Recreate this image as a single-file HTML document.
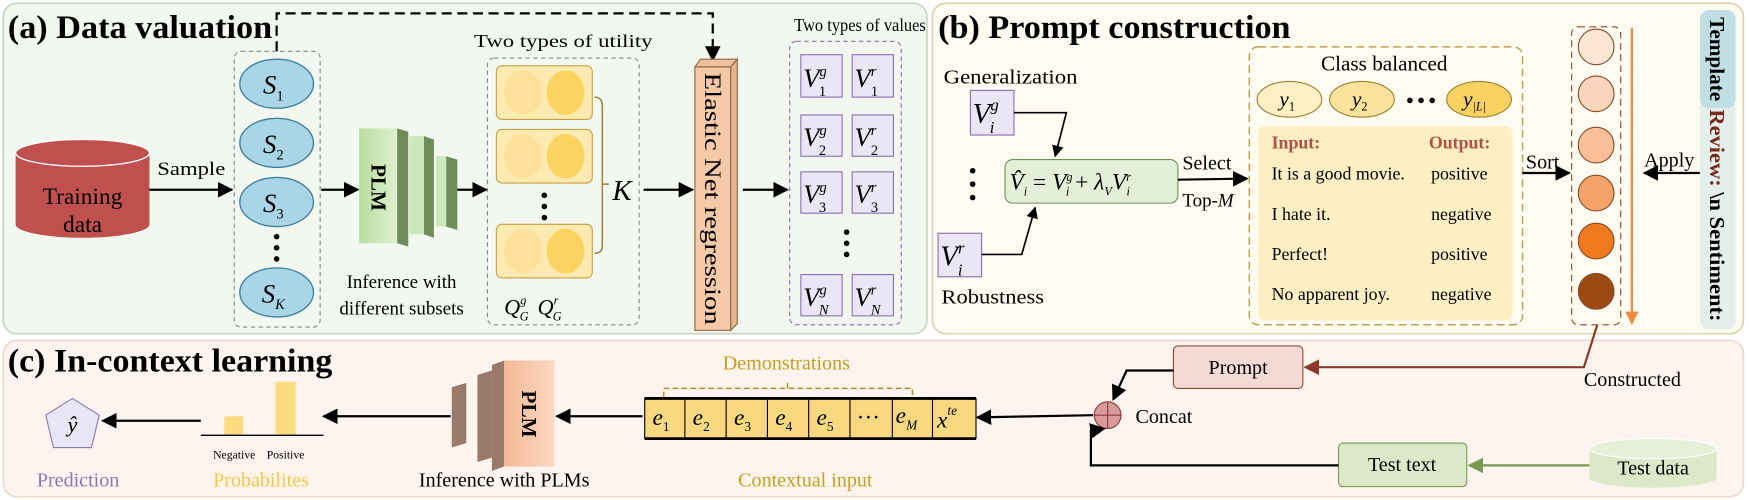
<!DOCTYPE html>
<html><head><meta charset="utf-8"><style>
html,body{margin:0;padding:0;background:#fff;}
svg{display:block;}
text{font-family:"Liberation Serif",serif;}
</style></head><body>
<svg width="1749" height="500" viewBox="0 0 1568 448" preserveAspectRatio="none" xmlns="http://www.w3.org/2000/svg">
<defs>
<marker id="ab" viewBox="0 0 10 10" refX="9" refY="5" markerWidth="7" markerHeight="7" orient="auto"><path d="M0,0L10,5L0,10z" fill="#000"/></marker>
<marker id="ar" viewBox="0 0 10 10" refX="9" refY="5" markerWidth="7" markerHeight="7" orient="auto"><path d="M0,0L10,5L0,10z" fill="#8b3a2a"/></marker>
<marker id="ag" viewBox="0 0 10 10" refX="9" refY="5" markerWidth="7" markerHeight="7" orient="auto"><path d="M0,0L10,5L0,10z" fill="#7a9a50"/></marker>
<marker id="ao" viewBox="0 0 10 10" refX="9" refY="5" markerWidth="6" markerHeight="6" orient="auto"><path d="M0,0L10,5L0,10z" fill="#f08a40"/></marker>
<linearGradient id="plmg" x1="0" x2="1"><stop offset="0" stop-color="#b9dca0"/><stop offset="1" stop-color="#def0cf"/></linearGradient>
<linearGradient id="plmo" x1="0" x2="1"><stop offset="0" stop-color="#f4b894"/><stop offset="1" stop-color="#fbd8c2"/></linearGradient>
</defs>

<!-- panels -->
<rect x="3" y="3" width="828" height="296" rx="12" fill="#f2f8ef" stroke="#c8d4bf" stroke-width="1.5"/>
<rect x="836" y="3" width="727" height="296" rx="12" fill="#fefbf0" stroke="#ddd0aa" stroke-width="1.5"/>
<rect x="3" y="305" width="1560" height="140" rx="12" fill="#fdf4f0" stroke="#f0d8cc" stroke-width="1.5"/>

<!-- ===== (a) ===== -->
<text x="7" y="34" font-size="29" font-weight="bold" textLength="237" lengthAdjust="spacingAndGlyphs">(a) Data valuation</text>
<path d="M248,46V12H639V54" fill="none" stroke="#000" stroke-width="2" stroke-dasharray="9,5" marker-end="url(#ab)"/>

<g>
<path d="M14,137V201A60,12 0 0 0 134,201V137z" fill="#c0504d"/>
<ellipse cx="74" cy="137" rx="60" ry="12" fill="#c0504d" stroke="#fff" stroke-width="1.2"/>
<text x="74" y="183" font-size="21" text-anchor="middle">Training</text>
<text x="74" y="208" font-size="21" text-anchor="middle">data</text>
</g>
<text x="141" y="157" font-size="17" textLength="61" lengthAdjust="spacingAndGlyphs">Sample</text>
<line x1="134" y1="170" x2="208" y2="170" stroke="#000" stroke-width="2" marker-end="url(#ab)"/>

<rect x="210" y="46" width="77" height="247" rx="6" fill="none" stroke="#7a8a9a" stroke-dasharray="4,3"/>
<g font-style="italic" font-size="24" text-anchor="middle">
<ellipse cx="248" cy="75" rx="33" ry="22" fill="#a9d5e6" stroke="#3d7fa0" stroke-width="1.2"/><text x="245" y="84">S<tspan font-size="13" dy="6" font-style="normal">1</tspan></text>
<ellipse cx="248" cy="128" rx="33" ry="22" fill="#a9d5e6" stroke="#3d7fa0" stroke-width="1.2"/><text x="245" y="137">S<tspan font-size="13" dy="6" font-style="normal">2</tspan></text>
<ellipse cx="248" cy="181" rx="33" ry="22" fill="#a9d5e6" stroke="#3d7fa0" stroke-width="1.2"/><text x="245" y="190">S<tspan font-size="13" dy="6" font-style="normal">3</tspan></text>
<circle cx="248" cy="212" r="2.5" fill="#000"/><circle cx="248" cy="222" r="2.5" fill="#000"/><circle cx="248" cy="232" r="2.5" fill="#000"/>
<ellipse cx="248" cy="262" rx="33" ry="22" fill="#a9d5e6" stroke="#3d7fa0" stroke-width="1.2"/><text x="245" y="271">S<tspan font-size="13" dy="6">K</tspan></text>
</g>
<line x1="288" y1="170" x2="321" y2="170" stroke="#000" stroke-width="2" marker-end="url(#ab)"/>

<g>
<polygon points="400,140 410,143 410,206 400,203" fill="#6e8c5a"/><rect x="391" y="140" width="9" height="63" fill="#cde8b8"/>
<polygon points="380,122 389,125 389,213 380,210" fill="#6e8c5a"/><rect x="367" y="122" width="13" height="88" fill="#cde8b8"/>
<polygon points="356,115 366,118 366,221 356,218" fill="#6e8c5a"/><rect x="322" y="115" width="34" height="103" fill="url(#plmg)"/>
<text transform="translate(333,168) rotate(90)" font-size="19" text-anchor="middle" font-weight="bold">PLM</text>
</g>
<text x="360" y="258" font-size="17" text-anchor="middle">Inference with</text>
<text x="360" y="282" font-size="17" text-anchor="middle">different subsets</text>
<line x1="410" y1="170" x2="436" y2="170" stroke="#000" stroke-width="2" marker-end="url(#ab)"/>

<text x="505" y="42" font-size="16" text-anchor="middle" textLength="160" lengthAdjust="spacingAndGlyphs">Two types of utility</text>
<rect x="437" y="52" width="136" height="239" rx="6" fill="none" stroke="#8a8a80" stroke-dasharray="4,3"/>
<g>
<rect x="445" y="59" width="86" height="48" rx="5" fill="#fdeab0" stroke="#c8a040"/><ellipse cx="469" cy="83" rx="17" ry="20" fill="#fde09a"/><ellipse cx="507" cy="83" rx="17" ry="20" fill="#fcd260"/>
<rect x="445" y="116" width="86" height="48" rx="5" fill="#fdeab0" stroke="#c8a040"/><ellipse cx="469" cy="140" rx="17" ry="20" fill="#fde09a"/><ellipse cx="507" cy="140" rx="17" ry="20" fill="#fcd260"/>
<circle cx="488" cy="175" r="2.5"/><circle cx="488" cy="185" r="2.5"/><circle cx="488" cy="195" r="2.5"/>
<rect x="445" y="201" width="86" height="48" rx="5" fill="#fdeab0" stroke="#c8a040"/><ellipse cx="469" cy="225" rx="17" ry="20" fill="#fde09a"/><ellipse cx="507" cy="225" rx="17" ry="20" fill="#fcd260"/>
</g>
<path d="M533,87Q540,87 540,95V165H546M540,165V220Q540,227 533,227" fill="none" stroke="#a08030" stroke-width="1.3"/>
<text x="549" y="179" font-size="26" font-style="italic">K</text>
<text x="452" y="282" font-size="20" font-style="italic">Q<tspan font-size="11" dy="-9">g</tspan><tspan font-size="11" dx="-6" dy="14">G</tspan><tspan dx="8" dy="-5">Q</tspan><tspan font-size="11" dy="-9">r</tspan><tspan font-size="11" dx="-5" dy="14">G</tspan></text>
<line x1="577" y1="170" x2="621" y2="170" stroke="#000" stroke-width="2" marker-end="url(#ab)"/>

<g>
<polygon points="655,60 661,53 661,290 655,296" fill="#e8b48c" stroke="#8a6a40"/>
<polygon points="623,60 628,53 661,53 655,60" fill="#f0c09a" stroke="#8a6a40"/>
<rect x="623" y="60" width="32" height="236" fill="#f6c9a8" stroke="#8a6a40"/>
<text transform="translate(632,178) rotate(90)" font-size="21" text-anchor="middle" textLength="226" lengthAdjust="spacingAndGlyphs">Elastic Net regression</text>
</g>
<line x1="666" y1="170" x2="706" y2="170" stroke="#000" stroke-width="2" marker-end="url(#ab)"/>

<text x="771" y="28" font-size="16" text-anchor="middle" textLength="118" lengthAdjust="spacingAndGlyphs">Two types of values</text>
<rect x="708" y="37" width="100" height="254" rx="6" fill="none" stroke="#8b6fb5" stroke-dasharray="4,3"/>
<g font-size="24" font-style="italic">
<rect x="718" y="49" width="37" height="38" fill="#ebe6f6" stroke="#8b6fb5"/><text x="720" y="78">V<tspan font-size="13" dy="-10">g</tspan><tspan font-size="13" dx="-7" dy="18" font-style="normal">1</tspan></text>
<rect x="764" y="49" width="37" height="38" fill="#ebe6f6" stroke="#8b6fb5"/><text x="766" y="78">V<tspan font-size="13" dy="-10">r</tspan><tspan font-size="13" dx="-5" dy="18" font-style="normal">1</tspan></text>
<rect x="718" y="103" width="37" height="37" fill="#ebe6f6" stroke="#8b6fb5"/><text x="720" y="131">V<tspan font-size="13" dy="-10">g</tspan><tspan font-size="13" dx="-7" dy="18" font-style="normal">2</tspan></text>
<rect x="764" y="103" width="37" height="37" fill="#ebe6f6" stroke="#8b6fb5"/><text x="766" y="131">V<tspan font-size="13" dy="-10">r</tspan><tspan font-size="13" dx="-5" dy="18" font-style="normal">2</tspan></text>
<rect x="718" y="154" width="37" height="37" fill="#ebe6f6" stroke="#8b6fb5"/><text x="720" y="182">V<tspan font-size="13" dy="-10">g</tspan><tspan font-size="13" dx="-7" dy="18" font-style="normal">3</tspan></text>
<rect x="764" y="154" width="37" height="37" fill="#ebe6f6" stroke="#8b6fb5"/><text x="766" y="182">V<tspan font-size="13" dy="-10">r</tspan><tspan font-size="13" dx="-5" dy="18" font-style="normal">3</tspan></text>
<circle cx="759" cy="208" r="2.5"/><circle cx="759" cy="218" r="2.5"/><circle cx="759" cy="228" r="2.5"/>
<rect x="718" y="246" width="37" height="37" fill="#ebe6f6" stroke="#8b6fb5"/><text x="720" y="274">V<tspan font-size="13" dy="-10">g</tspan><tspan font-size="13" dx="-7" dy="18">N</tspan></text>
<rect x="764" y="246" width="37" height="37" fill="#ebe6f6" stroke="#8b6fb5"/><text x="766" y="274">V<tspan font-size="13" dy="-10">r</tspan><tspan font-size="13" dx="-5" dy="18">N</tspan></text>
</g>

<!-- ===== (b) ===== -->
<text x="841" y="34" font-size="29" font-weight="bold" textLength="316" lengthAdjust="spacingAndGlyphs">(b) Prompt construction</text>
<text x="846" y="75" font-size="18" textLength="120" lengthAdjust="spacingAndGlyphs">Generalization</text>
<rect x="870" y="81" width="39" height="40" fill="#ebe6f6" stroke="#8b6fb5"/>
<text x="872" y="110" font-size="26" font-style="italic">V<tspan font-size="15" dy="-11">g</tspan><tspan font-size="15" dx="-8" dy="20">i</tspan></text>
<path d="M909,101H956L946,140" fill="none" stroke="#000" stroke-width="1.5" marker-end="url(#ab)"/>
<g><circle cx="872" cy="153" r="2.5"/><circle cx="872" cy="165" r="2.5"/><circle cx="872" cy="177" r="2.5"/></g>
<rect x="901" y="143" width="155" height="39" rx="7" fill="#e4efd8" stroke="#6f8e5a"/>
<text x="905" y="170" font-size="21" font-style="italic">V̂<tspan font-size="11" dy="5">i</tspan><tspan dy="-5" font-style="normal"> = </tspan>V<tspan font-size="11" dy="-8">g</tspan><tspan font-size="11" dx="-6" dy="13">i</tspan><tspan dy="-5" font-style="normal"> + </tspan>λ<tspan font-size="11" dy="5">V</tspan><tspan dy="-5">V</tspan><tspan font-size="11" dy="-8">r</tspan><tspan font-size="11" dx="-4" dy="13">i</tspan></text>
<rect x="841" y="209" width="39" height="39" fill="#ebe6f6" stroke="#8b6fb5"/>
<text x="843" y="238" font-size="26" font-style="italic">V<tspan font-size="15" dy="-11">r</tspan><tspan font-size="15" dx="-6" dy="20">i</tspan></text>
<path d="M880,228H916L928,186" fill="none" stroke="#000" stroke-width="1.5" marker-end="url(#ab)"/>
<text x="844" y="272" font-size="18" textLength="92" lengthAdjust="spacingAndGlyphs">Robustness</text>
<text x="1060" y="152" font-size="18">Select</text>
<line x1="1056" y1="161" x2="1118" y2="160" stroke="#000" stroke-width="2" marker-end="url(#ab)"/>
<text x="1060" y="185" font-size="17">Top-<tspan font-style="italic">M</tspan></text>

<rect x="1120" y="42" width="245" height="249" rx="8" fill="none" stroke="#c0a050" stroke-width="1.3" stroke-dasharray="7,4"/>
<text x="1241" y="63" font-size="19" text-anchor="middle">Class balanced</text>
<g font-size="19" font-style="italic" text-anchor="middle">
<ellipse cx="1156" cy="89" rx="29" ry="16" fill="#fcf0c4" stroke="#a08030"/><text x="1154" y="95">y<tspan font-size="11" dy="4" font-style="normal">1</tspan></text>
<ellipse cx="1221" cy="89" rx="29" ry="16" fill="#fce29a" stroke="#a08030"/><text x="1219" y="95">y<tspan font-size="11" dy="4" font-style="normal">2</tspan></text>
<circle cx="1264" cy="90" r="2.5"/><circle cx="1274" cy="90" r="2.5"/><circle cx="1284" cy="90" r="2.5"/>
<ellipse cx="1326" cy="89" rx="29" ry="16" fill="#f9d262" stroke="#a08030"/><text x="1322" y="95">y<tspan font-size="11" dy="4">|L|</tspan></text>
</g>
<rect x="1128" y="113" width="228" height="174" rx="6" fill="#fdeec3"/>
<g font-size="16">
<text x="1140" y="133" font-weight="bold" fill="#b0504a">Input:</text><text x="1281" y="133" font-weight="bold" fill="#b0504a">Output:</text>
<text x="1140" y="161">It is a good movie.</text><text x="1283" y="161">positive</text>
<text x="1140" y="197">I hate it.</text><text x="1283" y="197">negative</text>
<text x="1140" y="233">Perfect!</text><text x="1283" y="233">positive</text>
<text x="1140" y="269">No apparent joy.</text><text x="1283" y="269">negative</text>
</g>
<text x="1368" y="151" font-size="18">Sort</text>
<line x1="1365" y1="155" x2="1407" y2="155" stroke="#000" stroke-width="2" marker-end="url(#ab)"/>
<rect x="1409" y="24" width="44" height="267" rx="6" fill="none" stroke="#8b4a2a" stroke-dasharray="6,4"/>
<g stroke="#8b4a2a" stroke-width="1">
<circle cx="1431" cy="42" r="16" fill="#fbe6d6"/><circle cx="1431" cy="84" r="16" fill="#f9d5bc"/><circle cx="1431" cy="130" r="16" fill="#f7c09b"/>
<circle cx="1431" cy="173" r="16" fill="#f3a36a"/><circle cx="1431" cy="216" r="16" fill="#ee7a1f"/><circle cx="1431" cy="261" r="16" fill="#9a4a12"/>
</g>
<line x1="1463" y1="25" x2="1463" y2="290" stroke="#f08a40" stroke-width="2" marker-end="url(#ao)"/>
<text x="1474" y="149" font-size="18">Apply</text>
<line x1="1524" y1="155" x2="1474" y2="155" stroke="#000" stroke-width="2" marker-end="url(#ab)"/>
<rect x="1524" y="90" width="32" height="205" rx="8" fill="#e4eeec"/>
<rect x="1524" y="9" width="32" height="88" rx="8" fill="#bfdfe4"/>
<text transform="translate(1533,53) rotate(90)" font-size="19" font-weight="bold" text-anchor="middle">Template</text>
<text transform="translate(1533,193) rotate(90)" font-size="19" font-weight="bold" text-anchor="middle" textLength="190" lengthAdjust="spacingAndGlyphs"><tspan fill="#7a2a1a">Review:</tspan> \n Sentiment:</text>

<!-- ===== (c) ===== -->
<text x="7" y="333" font-size="29" font-weight="bold" textLength="291" lengthAdjust="spacingAndGlyphs">(c) In-context learning</text>
<path d="M1432,291L1420,329H1170" fill="none" stroke="#8b3a2a" stroke-width="2" marker-end="url(#ar)"/>
<text x="1420" y="346" font-size="18">Constructed</text>
<rect x="1052" y="310" width="116" height="38" rx="4" fill="#f4d9d4" stroke="#8b4a3a"/>
<text x="1110" y="335" font-size="18" text-anchor="middle">Prompt</text>
<path d="M1052,332H1010L998,358" fill="none" stroke="#000" stroke-width="2" marker-end="url(#ab)"/>
<g>
<circle cx="993" cy="372" r="12" fill="#d99a9a" stroke="#8b3a3a"/>
<line x1="981" y1="372" x2="1005" y2="372" stroke="#8b3a3a"/><line x1="993" y1="360" x2="993" y2="384" stroke="#8b3a3a"/>
</g>
<text x="1018" y="379" font-size="18">Concat</text>
<rect x="1200" y="397" width="115" height="39" rx="4" fill="#dce8c8" stroke="#7a9a50"/>
<text x="1257" y="422" font-size="18" text-anchor="middle">Test text</text>
<g>
<path d="M1425,402V428A57,9 0 0 0 1539,428V402z" fill="#dce8c8"/>
<ellipse cx="1482" cy="402" rx="57" ry="9" fill="#e6efd8" stroke="#fff"/>
<text x="1482" y="425" font-size="18" text-anchor="middle">Test data</text>
</g>
<line x1="1425" y1="417" x2="1317" y2="417" stroke="#7a9a50" stroke-width="2" marker-end="url(#ag)"/>
<path d="M1200,417H978V386L990,384" fill="none" stroke="#000" stroke-width="2" marker-end="url(#ab)"/>
<line x1="980" y1="372" x2="876" y2="374" stroke="#000" stroke-width="2" marker-end="url(#ab)"/>

<text x="705" y="331" font-size="18" text-anchor="middle" fill="#c8a020">Demonstrations</text>
<path d="M595,356V348H818V356M706,348V340" fill="none" stroke="#b09020" stroke-width="1.3" stroke-dasharray="5,3"/>
<g font-size="21" font-style="italic">
<rect x="578" y="357" width="297" height="36" fill="#f9d980" stroke="#000"/>
<line x1="578" y1="357" x2="875" y2="357" stroke="#000" stroke-width="2.5"/><line x1="578" y1="393" x2="875" y2="393" stroke="#000" stroke-width="2.5"/>
<line x1="614" y1="357" x2="614" y2="393" stroke="#000"/><line x1="651" y1="357" x2="651" y2="393" stroke="#000"/><line x1="688" y1="357" x2="688" y2="393" stroke="#000"/><line x1="725" y1="357" x2="725" y2="393" stroke="#000"/><line x1="762" y1="357" x2="762" y2="393" stroke="#000"/><line x1="800" y1="357" x2="800" y2="393" stroke="#000"/><line x1="836" y1="357" x2="836" y2="393" stroke="#000"/>
<text x="585" y="381">e<tspan font-size="12" dy="5" font-style="normal">1</tspan></text>
<text x="621" y="381">e<tspan font-size="12" dy="5" font-style="normal">2</tspan></text>
<text x="658" y="381">e<tspan font-size="12" dy="5" font-style="normal">3</tspan></text>
<text x="695" y="381">e<tspan font-size="12" dy="5" font-style="normal">4</tspan></text>
<text x="732" y="381">e<tspan font-size="12" dy="5" font-style="normal">5</tspan></text>
<text x="768" y="381" font-style="normal">···</text>
<text x="803" y="379">e<tspan font-size="12" dy="6">M</tspan></text>
<text x="840" y="383">x<tspan font-size="12" dy="-11">te</tspan></text>
</g>
<text x="722" y="436" font-size="18" text-anchor="middle" fill="#c8a020">Contextual input</text>
<line x1="576" y1="373" x2="499" y2="373" stroke="#000" stroke-width="2" marker-end="url(#ab)"/>
<g>
<polygon points="405,347 418,343 418,397 405,401" fill="#9a7b6a"/>
<polygon points="428,336 441,332 441,410 428,414" fill="#9a7b6a"/>
<polygon points="441,327 452,323 452,418 441,422" fill="#9a7b6a"/>
<rect x="452" y="323" width="45" height="95" fill="url(#plmo)"/>
<text transform="translate(468,371) rotate(90)" font-size="19" text-anchor="middle" font-weight="bold">PLM</text>
</g>
<text x="452" y="436" font-size="18" text-anchor="middle">Inference with PLMs</text>
<line x1="404" y1="373" x2="290" y2="373" stroke="#000" stroke-width="2" marker-end="url(#ab)"/>
<g>
<rect x="201" y="373" width="17" height="17" fill="#fcdc80"/>
<rect x="247" y="342" width="18" height="48" fill="#fcdc80"/>
<line x1="180" y1="390" x2="290" y2="390" stroke="#000" stroke-width="1.2"/>
<text x="210" y="411" font-size="10.5" text-anchor="middle">Negative</text><text x="256" y="411" font-size="10.5" text-anchor="middle">Positive</text>
</g>
<text x="234" y="436" font-size="18" text-anchor="middle" fill="#f5c842">Probabilites</text>
<line x1="180" y1="377" x2="92" y2="377" stroke="#000" stroke-width="2" marker-end="url(#ab)"/>
<polygon points="65,357 89,372 82,401 48,401 41,372" fill="#e8e6f4" stroke="#8b7ab5"/>
<text x="65" y="387" font-size="20" font-style="italic" text-anchor="middle">ŷ</text>
<text x="70" y="436" font-size="18" text-anchor="middle" fill="#8a78b0">Prediction</text>
</svg>
</body></html>
